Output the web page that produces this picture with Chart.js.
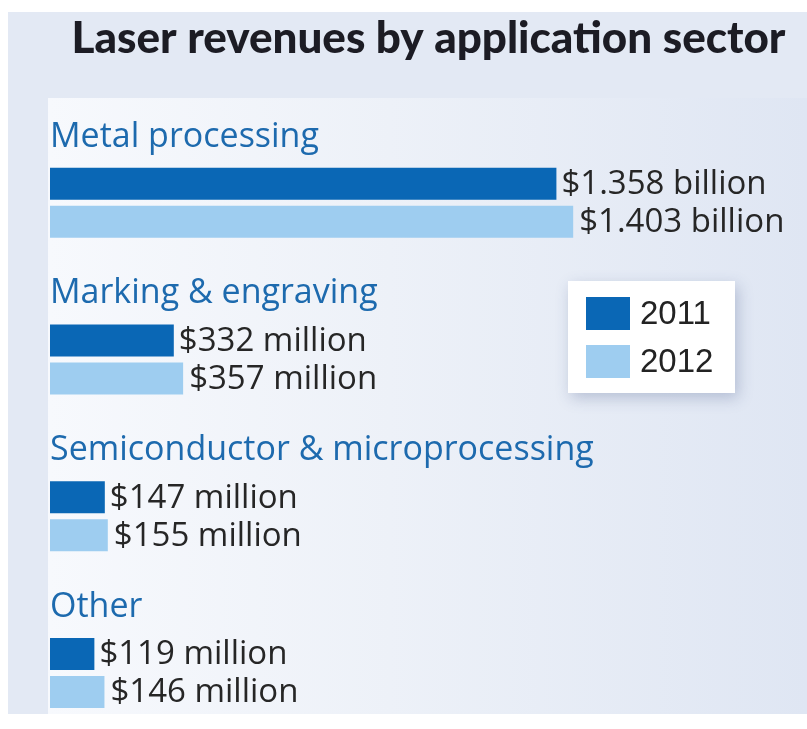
<!DOCTYPE html>
<html>
<head>
<meta charset="utf-8">
<title>Laser revenues by application sector</title>
<script src="https://cdn.jsdelivr.net/npm/chart.js@4.4.0/dist/chart.umd.min.js"></script>
<style>
  html, body { margin: 0; padding: 0; background: #ffffff; }
  #wrap { width: 807px; height: 729px; }
</style>
</head>
<body>
<div id="wrap"><canvas id="laserChart" width="807" height="729"></canvas></div>
<script>
// data (millions of dollars)
const sectors = ['Metal processing', 'Marking & engraving', 'Semiconductor & microprocessing', 'Other'];
const years = ['2011', '2012'];
const revenue2011 = [1358, 332, 147, 119];
const revenue2012 = [1403, 357, 155, 146];
const valueLabels2011 = ['$1.358 billion', '$332 million', '$147 million', '$119 million'];
const valueLabels2012 = ['$1.403 billion', '$357 million', '$155 million', '$146 million'];

const darkBlue = '#0a67b5';
const lightBlue = '#9ecdf0';

// page background: grey-blue frame with a lighter panel behind the bars
const backgroundPlugin = {
    id: 'background',
    beforeDraw(chart) {
        const ctx = chart.ctx;
        ctx.save();
        ctx.fillStyle = '#e3e9f4';
        ctx.fillRect(8, 12, 799, 702);
        const grad = ctx.createLinearGradient(48, 0, 807, 0);
        grad.addColorStop(0, '#f7f9fd');
        grad.addColorStop(0.45, '#edf1f8');
        grad.addColorStop(1, '#dfe6f3');
        ctx.fillStyle = grad;
        ctx.fillRect(48, 98, 759, 616);
        ctx.restore();
    }
};

// sector names above each pair of bars, values right of each bar
const labelsPlugin = {
    id: 'barLabels',
    afterDatasetsDraw(chart) {
        const ctx = chart.ctx;
        const area = chart.chartArea;
        const meta0 = chart.getDatasetMeta(0);
        const meta1 = chart.getDatasetMeta(1);
        ctx.save();

        ctx.font = '500 34px "Open Sans"';
        ctx.fillStyle = '#1d6aae';
        ctx.textAlign = 'left';
        ctx.textBaseline = 'alphabetic';
        meta0.data.forEach((bar, i) => {
            const top = bar.y - bar.height / 2;
            ctx.fillText(sectors[i], area.left, top - 21);
        });

        ctx.font = '33px "Open Sans"';
        ctx.fillStyle = '#262626';
        ctx.textBaseline = 'middle';
        meta0.data.forEach((bar, i) => {
            ctx.fillText(valueLabels2011[i], bar.x + 5, bar.y + 1);
        });
        meta1.data.forEach((bar, i) => {
            ctx.fillText(valueLabels2012[i], bar.x + 6, bar.y + 1);
        });
        ctx.restore();
    }
};

// boxed legend on the right
const legendBoxPlugin = {
    id: 'legendBox',
    afterDraw(chart) {
        const ctx = chart.ctx;
        const x = 568, y = 281, w = 167, h = 112;
        ctx.save();
        ctx.shadowColor = 'rgba(60, 80, 130, 0.28)';
        ctx.shadowBlur = 14;
        ctx.shadowOffsetX = 3;
        ctx.shadowOffsetY = 5;
        ctx.fillStyle = '#ffffff';
        ctx.fillRect(x, y, w, h);
        ctx.restore();

        ctx.save();
        ctx.font = '33px "Liberation Sans"';
        ctx.textBaseline = 'middle';
        chart.data.datasets.forEach((ds, i) => {
            const sy = y + 16 + i * 48;
            ctx.fillStyle = ds.backgroundColor;
            ctx.fillRect(x + 18, sy, 44, 33);
            ctx.fillStyle = '#232323';
            ctx.fillText(ds.label, x + 72, sy + 18);
        });
        ctx.restore();
    }
};

const ctx = document.getElementById('laserChart').getContext('2d');
const laserChart = new Chart(ctx, {
    type: 'bar',
    data: {
        labels: sectors,
        datasets: [
            { label: years[0], data: revenue2011, backgroundColor: darkBlue, clip: false },
            { label: years[1], data: revenue2012, backgroundColor: lightBlue, clip: false }
        ]
    },
    options: {
        indexAxis: 'y',
        responsive: false,
        animation: false,
        categoryPercentage: 0.4856,
        barPercentage: 0.842,
        layout: {
            padding: { left: 50, right: 0, top: 0, bottom: 56 }
        },
        scales: {
            x: { type: 'linear', min: 0, max: 2030, display: false },
            y: { type: 'category', offset: false, display: false }
        },
        plugins: {
            legend: { display: false },
            tooltip: { enabled: false },
            title: {
                display: true,
                text: 'Laser revenues by application sector',
                color: '#1c1c24',
                font: { family: 'Lato', size: 44, weight: '900' },
                padding: { top: 12, bottom: 138 }
            }
        }
    },
    plugins: [backgroundPlugin, labelsPlugin, legendBoxPlugin]
});
</script>
</body>
</html>
